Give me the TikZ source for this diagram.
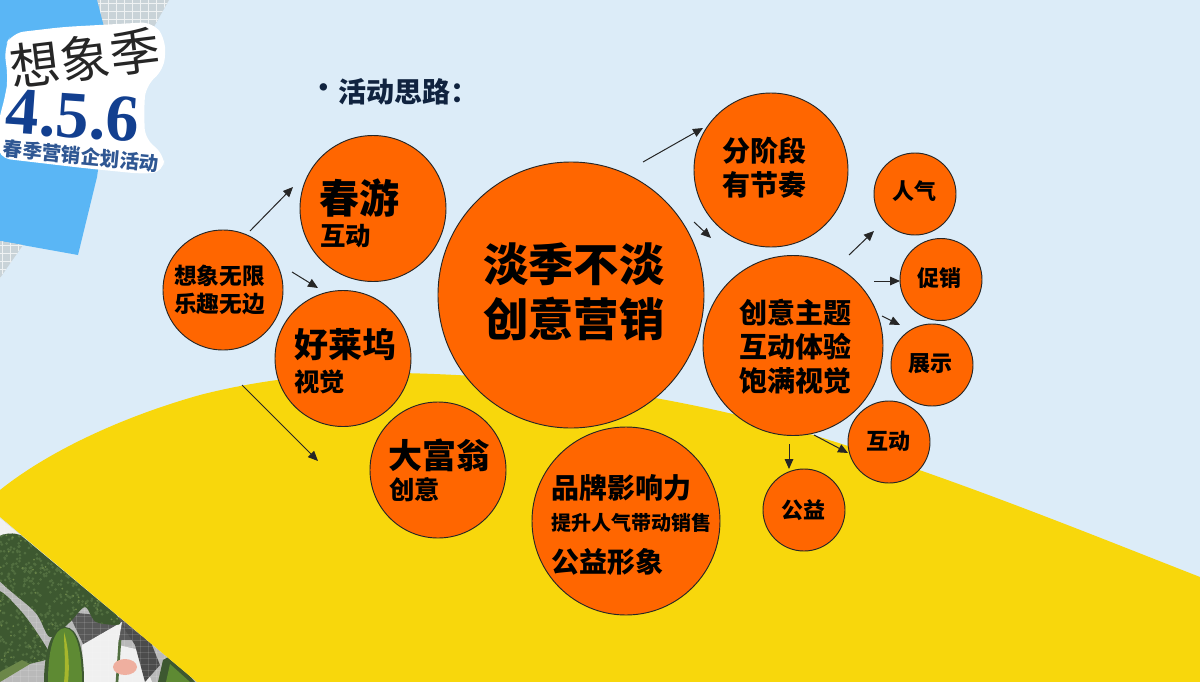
\documentclass[tikz,border=0pt]{standalone}
\usepackage{fontspec}
\setmainfont{Noto Sans CJK SC}
\newfontfamily\logoserif{Liberation Serif}
\usetikzlibrary{arrows.meta}
\definecolor{skybg}{HTML}{DCECF8}
\definecolor{sunny}{HTML}{F8D70C}
\definecolor{blueband}{HTML}{5AB6F5}
\definecolor{orangeball}{HTML}{FF6600}
\definecolor{gridgrey}{HTML}{C9D3D8}
\definecolor{navy}{HTML}{10233F}
\definecolor{logoblue}{HTML}{123F8F}
\definecolor{logoblueb}{HTML}{2F5793}
\definecolor{brocA}{HTML}{526F40}
\definecolor{brocB}{HTML}{3D5830}
\definecolor{brocC}{HTML}{6C8749}
\definecolor{cuke}{HTML}{5E8A33}
\tikzset{
  ball/.style={circle,draw=black!85,line width=0.7pt,fill=orangeball,inner sep=0pt,minimum size=#1*1.5pt},
  arrowline/.style={draw=black!85,line width=0.75pt,-{Triangle[length=7.5pt,width=6.5pt]}},
  lbl/.style={font=\fontsize{#1}{#1}\selectfont\bfseries,inner sep=0pt,text=black,anchor=west},
  block/.style 2 args={font=\fontsize{#1}{#2}\selectfont\bfseries,inner sep=0pt,text=black,align=left,anchor=west},
}
\begin{document}
\begin{tikzpicture}[x=0.75pt,y=-0.75pt]
\useasboundingbox (0,0) rectangle (1200,682);
\fill[skybg] (0,0) rectangle (1200,682);
% grey grid wedge, top
\begin{scope}
\clip (90,0) -- (169,0) -- (110,105) -- (100,60) -- cycle;
\fill[gridgrey] (80,0) rectangle (170,110);
\foreach \gx in {84,92,...,170}{\draw[white!70!gridgrey,line width=0.4pt] (\gx,0) -- (\gx,110);}
\foreach \gy in {3,11,...,110}{\draw[white!70!gridgrey,line width=0.4pt] (80,\gy) -- (170,\gy);}
\end{scope}
% blue band
\fill[blueband] (0,0) -- (97,0) -- (110,50) -- (110,90) -- (97,177) -- (78,255) -- (0,241) -- cycle;
% grey grid wedge, lower
\begin{scope}
\clip (0,241) -- (23,245) -- (0,278) -- cycle;
\fill[gridgrey] (0,240) rectangle (25,280);
\foreach \gx in {2,10,18}{\draw[white!70!gridgrey,line width=0.4pt] (\gx,240) -- (\gx,280);}
\foreach \gy in {245,253,...,280}{\draw[white!70!gridgrey,line width=0.4pt] (0,\gy) -- (25,\gy);}
\end{scope}
% photo corner
\begin{scope}
\clip (0,518) -- (197,682) -- (0,682) -- cycle;
\fill[gray!55] (0,510) rectangle (200,682);
\fill[white!88!gray] (0,518) rectangle (60,536);
\fill[gray!70!black] (68,612) -- (125,618) -- (150,640) -- (120,640) -- (85,648) -- cycle;
\fill[white!88!gray] (82,645) -- (122,622) -- (118,645) -- (140,650) -- (152,682) -- (84,682) -- cycle;
\fill[gray!60!black] (122,625) -- (150,640) -- (160,665) -- (145,682) -- (135,645) -- cycle;
\foreach \gx in {4,12,...,200}{\draw[white,opacity=.12,line width=0.4pt] (\gx,510) -- (\gx,682);}
\foreach \gy in {514,520,...,682}{\draw[white,opacity=.12,line width=0.4pt] (0,\gy) -- (200,\gy);}
% broccoli heads with a speckled surface
\pgfmathsetseed{42}
\begin{scope}
\clip plot[smooth cycle,tension=.5] coordinates {(-5,540) (20,535) (60,566) (110,608) (120,624) (96,622) (85,607) (70,622) (50,637) (35,612) (-5,575)};
\fill[brocB] (-5,530) rectangle (125,640);
\foreach \i in {1,...,500}{\pgfmathsetmacro{\px}{rnd*120}\pgfmathsetmacro{\py}{530+rnd*100}\fill[brocA] (\px,\py) circle (1.5);}
\foreach \i in {1,...,60}{\pgfmathsetmacro{\px}{rnd*120}\pgfmathsetmacro{\py}{530+rnd*100}\fill[brocC] (\px,\py) circle (1);}
\end{scope}
\begin{scope}
\clip plot[smooth cycle,tension=.5] coordinates {(-5,593) (20,610) (45,645) (49,658) (25,665) (-5,674)};
\fill[brocB] (-5,590) rectangle (55,680);
\foreach \i in {1,...,200}{\pgfmathsetmacro{\px}{rnd*55}\pgfmathsetmacro{\py}{590+rnd*85}\fill[brocA] (\px,\py) circle (1.5);}
\foreach \i in {1,...,25}{\pgfmathsetmacro{\px}{rnd*55}\pgfmathsetmacro{\py}{590+rnd*85}\fill[brocC] (\px,\py) circle (1);}
\end{scope}
\fill[brocC] (0,672) -- (22,660) -- (30,664) -- (0,682) -- cycle;
% cucumber
\fill[brocB] (65,627) .. controls (78,627) and (84,650) .. (84,682) -- (44,682) .. controls (44,650) and (52,627) .. (65,627) -- cycle;
\fill[cuke] (65,628) .. controls (76,628) and (82,650) .. (82,682) -- (48,682) .. controls (48,650) and (54,628) .. (65,628) -- cycle;
\fill[brocC!60!yellow] (64,632) .. controls (68,645) and (70,665) .. (68,682) -- (64,682) .. controls (66,665) and (64,645) .. (64,632) -- cycle;
% stem, radish and the second cucumber
\draw[brocA,line width=2pt] (120,640) -- (117,682);
\fill[pink!75!brown] (125,667) ellipse (12 and 8);
\fill[brocB] (158,682) -- (163,660) -- (172,655) -- (195,682) -- cycle;
\fill[cuke] (166,682) -- (170,664) -- (190,682) -- cycle;
\end{scope}
% yellow hill
\fill[sunny] (0,490) .. controls (50,450) and (125,416) .. (200,395)
  .. controls (270,377) and (340,372) .. (400,373)
  .. controls (560,376) and (700,402) .. (813,435)
  .. controls (950,477) and (1080,530) .. (1200,577)
  -- (1200,682) -- (197,682) -- (0,517) -- cycle;
% logo backing
\fill[white,rounded corners=9pt] (4,48) -- (12,33) -- (63,27) -- (153,22) -- (166,40) -- (164,70) -- (146,85) -- (144,107) -- (145,140) -- (164,153) -- (164,172) -- (143,174) -- (83,168) -- (-2,158) -- (-2,123) -- (6,93) -- (8,78) -- cycle;
\node[inner sep=0pt,text=black!85,rotate=7,font=\fontsize{37.5}{37.5}\selectfont] (logoa) at (85,58) {想象季};
\node[inner sep=0pt,text=logoblue,rotate=-4,font=\fontsize{50}{50}\selectfont\logoserif\bfseries] (logob) at (73,116) {4.5.6};
\node[inner sep=0pt,text=logoblueb,rotate=-5.5,font=\fontsize{14.6}{14.6}\selectfont\bfseries] (logoc) at (81,156) {春季营销企划活动};
% title
\node[inner sep=0pt,text=navy,font=\fontsize{20}{20}\selectfont\bfseries] (tbullet) at (324,91) {•};
\node[inner sep=0pt,text=navy,font=\fontsize{21}{21}\selectfont\bfseries,anchor=west] (title) at (338,92) {活动思路：};
% balls
\node[ball=133] (main) at (571,295) {};
\node[ball=60] (idea) at (223,290) {};
\node[ball=73] (spring) at (373,208.5) {};
\node[ball=68] (holly) at (343,358.5) {};
\node[ball=68] (mono) at (438,470) {};
\node[ball=94] (brand) at (626,521) {};
\node[ball=77] (phase) at (771,170) {};
\node[ball=90] (theme) at (793,345.5) {};
\node[ball=41] (pop) at (915,194) {};
\node[ball=41] (promo) at (941,279.5) {};
\node[ball=41] (show) at (932,365) {};
\node[ball=41] (inter) at (889,442) {};
\node[ball=41] (chari) at (804,510) {};
% ball texts
\node[block={34}{41}] (tmain) at (483,292) {淡季不淡\\创意营销};
\node[block={17}{21}] (tidea) at (174,290) {想象无限\\乐趣无边};
\node[lbl=30] (tspringa) at (319,198) {春游};
\node[lbl=19] (tspringb) at (320,236) {互动};
\node[lbl=25.5] (thollya) at (294,345) {好莱坞};
\node[lbl=19] (thollyb) at (294,382) {视觉};
\node[lbl=25.5] (tmonoa) at (388,455) {大富翁};
\node[lbl=19] (tmonob) at (389,490) {创意};
\node[lbl=21] (tbranda) at (551,488) {品牌影响力};
\node[lbl=15] (tbrandb) at (551,523) {提升人气带动销售};
\node[lbl=21] (tbrandc) at (551,562) {公益形象};
\node[block={21}{25.5}] (tphase) at (722,168) {分阶段\\有节奏};
\node[block={21}{25.5}] (ttheme) at (739,347) {创意主题\\互动体验\\饱满视觉};
\node[lbl=16.5] (tpop) at (892,191) {人气};
\node[lbl=16.5] (tpromo) at (917,278) {促销};
\node[lbl=16.5] (tshow) at (908,364) {展示};
\node[lbl=16.5] (tinter) at (866,441) {互动};
\node[lbl=16.5] (tchari) at (781,510) {公益};
% arrow ends
\coordinate (a1) at (250,231); \coordinate (b1) at (293,187);
\coordinate (a2) at (292,272); \coordinate (b2) at (318,288);
\coordinate (a3) at (242,385); \coordinate (b3) at (318,461);
\coordinate (a4) at (643,162); \coordinate (b4) at (703,128);
\coordinate (a5) at (694,222); \coordinate (b5) at (711,238);
\coordinate (a6) at (849,255); \coordinate (b6) at (874,231);
\coordinate (a7) at (874,281); \coordinate (b7) at (900,281);
\coordinate (a8) at (882,316); \coordinate (b8) at (900,325);
\coordinate (a9) at (814,435); \coordinate (b9) at (848,453);
\coordinate (a10) at (789,444); \coordinate (b10) at (789,469);
\foreach \i in {1,...,10}{\draw[arrowline] (a\i) -- (b\i);}
\end{tikzpicture}
\end{document}
